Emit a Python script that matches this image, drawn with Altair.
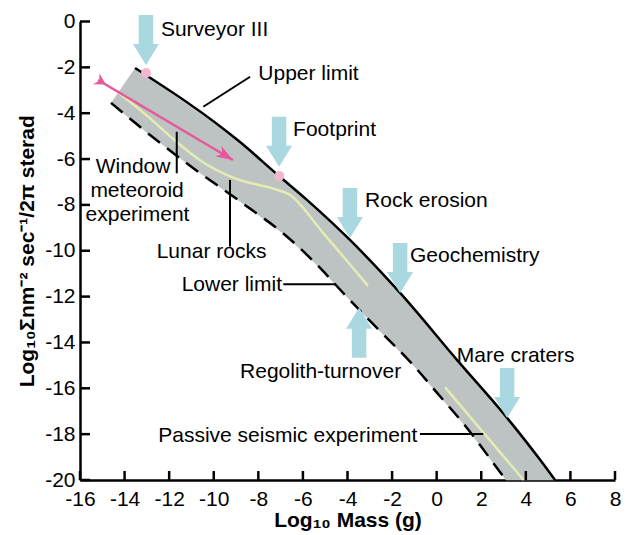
import altair as alt
import pandas as pd

FONT = "Liberation Sans"
BLACK = "#000000"
GRAY = "#bdc2c2"
BLUE = "#a9d8e1"
PINK = "#e6589a"
DOT = "#f3b5cf"
YELLOW = "#e4ebb3"

x_ticks = [-16, -14, -12, -10, -8, -6, -4, -2, 0, 2, 4, 6, 8]
y_ticks = [0, -2, -4, -6, -8, -10, -12, -14, -16, -18, -20]

# Upper limit (solid)
upper_x = [-13.53, -8.82, -7.07, -5.82, -3.89, -1.64, 0.91, 3.16, 4.64, 5.31]
upper_y = [-2.03, -5.26, -6.74, -7.78, -9.53, -11.84, -14.76, -17.29, -19.12, -20.0]

# Lower limit (dashed)
lower_x = [-14.61, -12.86, -10.93, -8.60, -6.80, -5.23, -4.11, -2.77, -1.06, 0.02, 1.36, 2.84, 3.11]
lower_y = [-3.55, -4.95, -6.39, -8.00, -9.31, -10.75, -11.93, -13.28, -14.98, -16.20, -17.73, -19.65, -20.0]

# Pale lines inside the band
lunar_x = [-14.25, -12.96, -11.70, -10.62, -9.00, -7.30, -6.60, -5.10, -3.08]
lunar_y = [-3.12, -4.14, -5.22, -6.05, -6.86, -7.30, -7.55, -9.22, -11.53]
seismic_x = [0.37, 3.90]
seismic_y = [-15.95, -20.0]

# Pink arrow (window meteoroid experiment)
pink_x = [-15.19, -9.14]
pink_y = [-2.55, -6.04]

# Pink dots
dot_x = [-13.04, -7.06]
dot_y = [-2.25, -6.74]

# Blue block arrows (centres) and direction
arrow_x = [-13.04, -7.07, -3.89, -1.64, -3.48, 3.16]
arrow_y = [-0.81, -5.24, -8.35, -10.75, -13.58, -16.20]
arrow_angle = [0, 0, 0, 0, 180, 0]

# Labels
label_text = ["Surveyor III", "Upper limit", "Footprint", "Lunar rocks", "Lower limit",
              "Rock erosion", "Geochemistry", "Regolith-turnover", "Mare craters",
              "Passive seismic experiment"]
label_x = [-12.37, -8.00, -6.44, -12.56, -11.44, -3.21, -1.195, -8.82, 0.90, -12.49]
label_y = [-0.63, -2.55, -4.99, -10.33, -11.77, -8.08, -10.48, -15.56, -14.84, -18.33]

window_text = ["Window", "meteoroid", "experiment"]
window_x = [-13.62, -13.44, -13.42]
window_y = [-6.61, -7.65, -8.70]

# Leader lines
lead_x = [-8.37, -11.66, -9.27, -6.88, -0.75]
lead_y = [-2.41, -4.81, -6.91, -11.46, -17.99]
lead_x2 = [-10.47, -11.66, -9.27, -4.56, 2.09]
lead_y2 = [-3.72, -6.62, -9.82, -11.46, -17.99]

xs = alt.Scale(domain=[x_ticks[0], x_ticks[-1]], nice=False, zero=False)
ys = alt.Scale(domain=[y_ticks[-1], y_ticks[0]], nice=False, zero=False)
xaxis = alt.Axis(values=x_ticks, title="Log₁₀ Mass (g)", labelExpr="'' + datum.value")
yaxis = alt.Axis(values=y_ticks, title="Log₁₀Σnm⁻² sec⁻¹/2π sterad", labelExpr="'' + datum.value")


def X(f="x:Q"):
    return alt.X(f, scale=xs, axis=xaxis)


def Y(f="y:Q"):
    return alt.Y(f, scale=ys, axis=yaxis)


def seq(xv, yv):
    d = pd.DataFrame({"x": xv, "y": yv})
    d["i"] = range(len(d))
    return d


band = seq(upper_x + lower_x[::-1], upper_y + lower_y[::-1])
band_layer = alt.Chart(band).mark_line(filled=True, fill=GRAY, stroke=GRAY, strokeWidth=0.5).encode(
    x=X(), y=Y(), order="i:Q")

lunar_layer = alt.Chart(seq(lunar_x, lunar_y)).mark_line(color=YELLOW, strokeWidth=2.5,
                                                         interpolate="monotone").encode(
    x=X(), y=Y(), order="i:Q")
seis_layer = alt.Chart(seq(seismic_x, seismic_y)).mark_line(color=YELLOW, strokeWidth=2.5).encode(
    x=X(), y=Y(), order="i:Q")

upper_layer = alt.Chart(seq(upper_x, upper_y)).mark_line(color=BLACK, strokeWidth=2.5, interpolate="monotone").encode(
    x=X(), y=Y(), order="i:Q")
lower_layer = alt.Chart(seq(lower_x, lower_y)).mark_line(color=BLACK, strokeWidth=2.5, strokeDash=[15, 9],
                                                         interpolate="monotone").encode(
    x=X(), y=Y(), order="i:Q")

leads = pd.DataFrame({"x": lead_x, "y": lead_y, "x2": lead_x2, "y2": lead_y2})
lead_layer = alt.Chart(leads).mark_rule(color=BLACK, strokeWidth=2).encode(
    x=X(), y=Y(), x2="x2:Q", y2="y2:Q")

pink_layer = alt.Chart(seq(pink_x, pink_y)).mark_line(color=PINK, strokeWidth=2.5).encode(
    x=X(), y=Y(), order="i:Q")
HEAD = "M0,0 L-2,-0.72 L-1.45,0 L-2,0.72 Z"
TAIL = "M1.3,0 L-0.3,-0.9 L0.2,0 L-0.3,0.9 Z"
head_layer = alt.Chart(seq(pink_x[1:], pink_y[1:])).mark_point(
    shape=HEAD, size=289, filled=True, color=PINK, opacity=1, strokeWidth=0, angle=30.65).encode(x=X(), y=Y())
tail_layer = alt.Chart(seq(pink_x[:1], pink_y[:1])).mark_point(
    shape=TAIL, size=196, filled=True, color=PINK, opacity=1, strokeWidth=0, angle=30.65).encode(x=X(), y=Y())

ARROW = "M-0.29,-1 L0.29,-1 L0.29,0.16 L0.52,0.16 L0,1 L-0.52,0.16 L-0.29,0.16 Z"
arrows = pd.DataFrame({"x": arrow_x, "y": arrow_y, "a": arrow_angle})
arrow_layer = alt.Chart(arrows).mark_point(
    shape=ARROW, size=2500, filled=True, color=BLUE, opacity=1, strokeWidth=0).encode(
    x=X(), y=Y(), angle=alt.Angle("a:Q", scale=None))

dot_layer = alt.Chart(seq(dot_x, dot_y)).mark_circle(size=100, color=DOT, opacity=1).encode(x=X(), y=Y())

labels = pd.DataFrame({"t": label_text, "x": label_x, "y": label_y})
label_layer = alt.Chart(labels).mark_text(align="left", baseline="alphabetic", fontSize=21, font=FONT,
                                          color=BLACK).encode(x=X(), y=Y(), text="t:N")
win = pd.DataFrame({"t": window_text, "x": window_x, "y": window_y})
win_layer = alt.Chart(win).mark_text(align="center", baseline="alphabetic", fontSize=21, font=FONT,
                                     color=BLACK).encode(x=X(), y=Y(), text="t:N")

xt = pd.DataFrame({"v": x_ticks, "base": [y_ticks[-1]] * len(x_ticks)})
xtick_layer = alt.Chart(xt).mark_rule(color=BLACK, strokeWidth=2.5, y2Offset=-9).encode(
    x=X("v:Q"), y=Y("base:Q"), y2="base:Q")
yt = pd.DataFrame({"v": y_ticks, "base": [x_ticks[0]] * len(y_ticks)})
ytick_layer = alt.Chart(yt).mark_rule(color=BLACK, strokeWidth=2.5, x2Offset=10).encode(
    y=Y("v:Q"), x=X("base:Q"), x2="base:Q")

chart = alt.layer(
    band_layer, lunar_layer, seis_layer, upper_layer, lower_layer, lead_layer,
    pink_layer, head_layer, tail_layer, arrow_layer, dot_layer, label_layer, win_layer,
    xtick_layer, ytick_layer,
).properties(
    width=535, height=458.5,
    autosize=alt.AutoSizeParams(type="none"),
    padding={"left": 80, "top": 21.5, "right": 16, "bottom": 55},
).configure_view(strokeWidth=0).configure_axis(
    grid=False, ticks=False, domainColor=BLACK, domainWidth=2.5,
    labelFont=FONT, labelFontSize=21, labelColor=BLACK,
    labelOverlap=False, labelFlush=False,
    titleFont=FONT, titleFontSize=21, titleFontWeight="bold", titleColor=BLACK,
).configure_axisX(
    labelPadding=8, titleY=46, titleBaseline="alphabetic",
).configure_axisY(
    labelPadding=5, titleX=-47, titleBaseline="alphabetic",
)

chart.save("out.html", embed_options={"renderer": "svg", "actions": False})
